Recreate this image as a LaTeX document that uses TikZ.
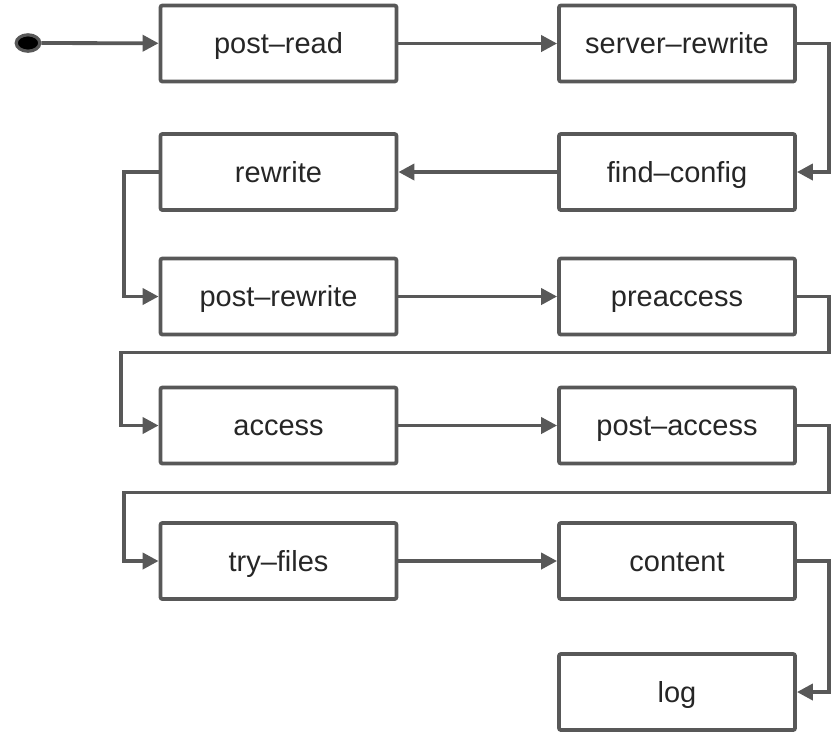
\documentclass[tikz,border=0pt]{standalone}
\usepackage{fontspec}
\setmainfont{Liberation Sans}
\usepackage{tikz}
\usetikzlibrary{arrows.meta}
\usetikzlibrary{shapes.geometric}
\definecolor{linegray}{RGB}{88,88,88}
\definecolor{labeltext}{RGB}{38,38,38}
\tikzset{
    phase/.style={rectangle, draw=linegray, line width=1.9pt, rounded corners=1pt,
        minimum width=118pt, minimum height=38pt, inner sep=0pt,
        text height=13pt, text depth=3pt, text=labeltext,
        font=\fontsize{14.5}{17}\selectfont},
    flow/.style={draw=linegray, line width=1.9pt,
        -{Triangle[length=8pt,width=8pt]}},
}

\begin{document}
\begin{tikzpicture}[x=0.5pt, y=-0.5pt]
\useasboundingbox (0,0) rectangle (833,736);

\node[ellipse, draw=linegray, fill=black, line width=1.6pt, inner sep=0pt,
      minimum width=11.8pt, minimum height=8.2pt]  (start)   at ( 28, 43 )  {};

\node[phase]    (postread)  at ( 278.5, 43.5 )     {post–read};
\node[phase]    (srvrw)     at ( 677,   43.5 )     {server–rewrite};
\node[phase]    (findcfg)   at ( 677,   172  )     {find–config};
\node[phase]    (rewrite)   at ( 278.5, 172  )     {rewrite};
\node[phase]    (postrw)    at ( 278.5, 296.5 )    {post–rewrite};
\node[phase]    (preacc)    at ( 677,   296.5 )    {preaccess};
\node[phase]    (access)    at ( 278.5, 425.5 )    {access};
\node[phase]    (postacc)   at ( 677,   425.5 )    {post–access};
\node[phase]    (tryfiles)  at ( 278.5, 561  )     {try–files};
\node[phase]    (content)   at ( 677,   561  )     {content};
\node[phase]    (log)       at ( 677,   692  )     {log};

\draw[flow] (start) -- (postread);
\draw[flow] (postread) -- (srvrw);
\draw[flow] (srvrw.east) -- ++(32,0) |- (findcfg.east);
\draw[flow] (findcfg) -- (rewrite);
\draw[flow] (rewrite.west) -- ++(-35,0) |- (postrw.west);
\draw[flow] (postrw) -- (preacc);
\draw[flow] (preacc.east) -- ++(32,0) -- ++(0,56) -| ([xshift=-19pt]access.west) -- (access.west);
\draw[flow] (access) -- (postacc);
\draw[flow] (postacc.east) -- ++(32,0) -- ++(0,67) -| ([xshift=-17.5pt]tryfiles.west) -- (tryfiles.west);
\draw[flow] (tryfiles) -- (content);
\draw[flow] (content.east) -- ++(32,0) |- (log.east);
\end{tikzpicture}
\end{document}
